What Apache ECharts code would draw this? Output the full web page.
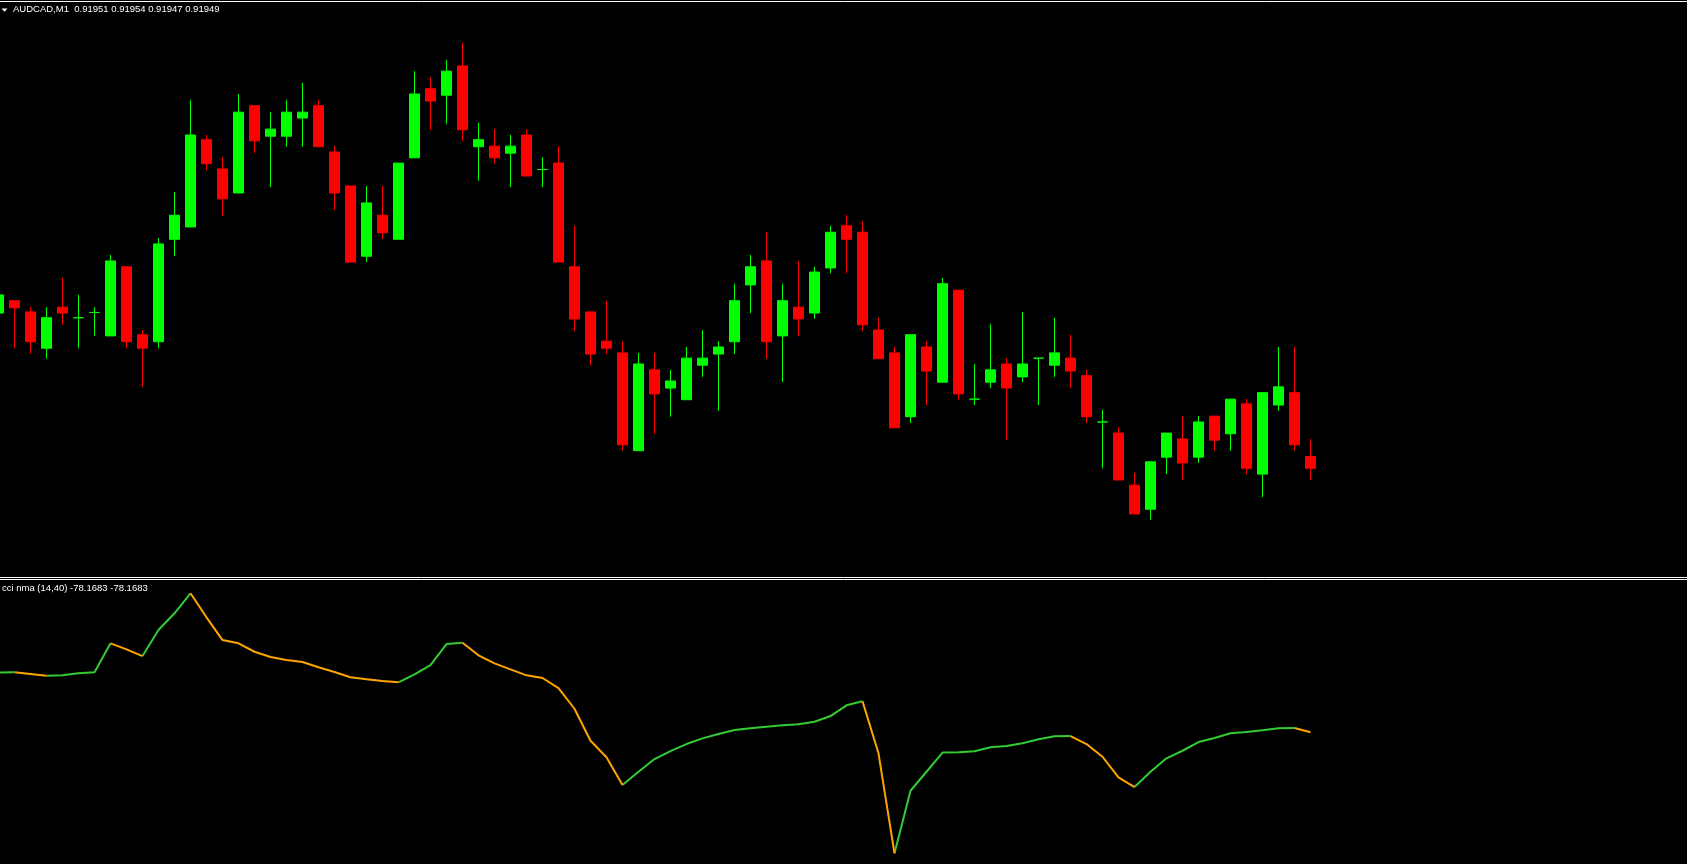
<!DOCTYPE html>
<html><head><meta charset="utf-8">
<script src="https://cdn.jsdelivr.net/npm/echarts@6/dist/echarts.min.js"></script>
<style>html,body{margin:0;padding:0;background:#000;overflow:hidden}#c{width:1687px;height:864px;}</style>
</head><body><div id="c"></div>
<script>
// AUDCAD M1 candles (open, close, low, high), oldest first
const openP = [0.919755,0.919776,0.919757,0.919695,0.919765,0.919747,0.919756,0.919716,0.919834,0.919718,
0.919706,0.919881,0.919902,0.920051,0.920001,0.919960,0.920109,0.920057,0.920057,0.920088,
0.920109,0.920030,0.919972,0.919852,0.919922,0.919881,0.920020,0.920138,0.920127,0.920177,
0.920039,0.920040,0.920028,0.920059,0.920000,0.920011,0.919834,0.919757,0.919707,0.919687,
0.919520,0.919658,0.919627,0.919607,0.919666,0.919685,0.919706,0.919803,0.919844,0.919716,
0.919765,0.919755,0.919832,0.919904,0.919893,0.919726,0.919687,0.919578,0.919697,0.919637,
0.919794,0.919608,0.919637,0.919668,0.919646,0.919678,0.919666,0.919678,0.919648,0.919569,
0.919550,0.919461,0.919420,0.919509,0.919540,0.919509,0.919579,0.919549,0.919600,0.919480,
0.919598,0.919619,0.91951];
const closeP = [0.919786,0.919764,0.919706,0.919747,0.919755,0.919747,0.919756,0.919844,0.919706,0.919695,
0.919873,0.919922,0.920059,0.920010,0.919950,0.920098,0.920049,0.920069,0.920098,0.920098,
0.920039,0.919960,0.919842,0.919943,0.919892,0.920011,0.920129,0.920117,0.920168,0.920068,
0.920051,0.920020,0.920040,0.919989,0.920000,0.919842,0.919745,0.919685,0.919695,0.919530,
0.919668,0.919617,0.919639,0.919678,0.919678,0.919697,0.919776,0.919834,0.919706,0.919776,
0.919745,0.919825,0.919893,0.919881,0.919735,0.919677,0.919559,0.919718,0.919656,0.919805,
0.919617,0.919608,0.919658,0.919627,0.919668,0.919678,0.919687,0.919656,0.919578,0.919569,
0.919470,0.919412,0.919501,0.919550,0.919499,0.919569,0.919538,0.919608,0.919490,0.919619,
0.919629,0.919530,0.91949];
const lowP = [0.919755,0.919695,0.919686,0.919677,0.919735,0.919695,0.919716,0.919716,0.919695,0.919629,
0.919695,0.919852,0.919902,0.919999,0.919921,0.919960,0.920028,0.919970,0.920039,0.920039,
0.920039,0.919931,0.919842,0.919842,0.919881,0.919881,0.920020,0.920068,0.920078,0.920049,
0.919981,0.920010,0.919970,0.919989,0.919970,0.919842,0.919724,0.919666,0.919685,0.919520,
0.919520,0.919549,0.919578,0.919607,0.919646,0.919588,0.919685,0.919755,0.919677,0.919637,
0.919716,0.919745,0.919823,0.919823,0.919724,0.919677,0.919559,0.919567,0.919598,0.919637,
0.919607,0.919598,0.919627,0.919538,0.919637,0.919598,0.919646,0.919627,0.919567,0.919490,
0.919470,0.919412,0.919402,0.919480,0.919470,0.919499,0.919520,0.919520,0.919480,0.919441,
0.919588,0.919520,0.91947];
const highP = [0.919786,0.919776,0.919765,0.919765,0.919815,0.919786,0.919765,0.919854,0.919834,0.919726,
0.919883,0.919962,0.920119,0.920059,0.920021,0.920129,0.920109,0.920098,0.920119,0.920148,
0.920119,0.920040,0.919972,0.919972,0.919972,0.920011,0.920168,0.920158,0.920187,0.920216,
0.920080,0.920069,0.920059,0.920069,0.920021,0.920040,0.919904,0.919757,0.919776,0.919707,
0.919687,0.919687,0.919658,0.919697,0.919726,0.919707,0.919805,0.919854,0.919893,0.919805,
0.919844,0.919834,0.919904,0.919922,0.919912,0.919747,0.919697,0.919718,0.919707,0.919815,
0.919794,0.919668,0.919736,0.919678,0.919757,0.919678,0.919747,0.919718,0.919658,0.919590,
0.919560,0.919482,0.919501,0.919550,0.919579,0.919579,0.919579,0.919608,0.919608,0.919619,
0.919697,0.919697,0.91954];
// cci nma (14,40) indicator values
const cciNma = [17.5,17.8,15.0,12.2,13.0,16.2,17.8,64.2,54.6,43.8,
85.4,112.2,144.2,105.8,69.4,64.2,50.7,42.2,37.4,34.2,
25.8,18.2,9.8,6.6,3.8,1.8,14.6,29.4,63.0,65.1,
45.0,32.2,22.6,13.0,8.7,-7.4,-40.5,-91.7,-118.2,-162.6,
-141.3,-121.0,-108.2,-97.0,-87.9,-81.0,-74.6,-71.8,-69.3,-67.0,
-65.4,-61.3,-52.2,-35.0,-28.6,-111.8,-271.8,-171.7,-141.3,-110.6,
-110.1,-108.6,-102.2,-100.2,-95.8,-89.4,-84.6,-84.2,-97.0,-117.3,
-150.2,-165.8,-141.3,-119.8,-107.7,-93.8,-87.4,-79.8,-77.8,-75.0,
-71.8,-71.4,-78.1683];
const symbolLabel = 'AUDCAD,M1';
const lastOHLC = ['0.91951','0.91954','0.91947','0.91949'];
const indicatorName = 'cci nma (14,40)';
const indicatorLast = ['-78.1683','-78.1683'];

const UP = '#00FF00', DOWN = '#FF0000', LUP = '#32CD32', LDN = '#FFA500';
// bar index is the x value; the visible window starts a fraction of a bar in
const X_MIN = 0.09375, X_MAX = 105.53125;
const candles = openP.map((o, i) => {
  const c = closeP[i] >= o ? UP : DOWN;
  return { value: [i, o, closeP[i], lowP[i], highP[i]],
    itemStyle: { color: c, color0: c, borderColor: c, borderColor0: c, borderColorDoji: c } };
});
const n = cciNma.length;
const rising = i => cciNma[i + 1] > cciNma[i];
const greenLine = cciNma.map((v, i) => [i, ((i > 0 && rising(i - 1)) || (i < n - 1 && rising(i))) ? v : '-']);
const orangeLine = cciNma.map((v, i) => [i, ((i > 0 && !rising(i - 1)) || (i < n - 1 && !rising(i))) ? v : '-']);

const hiddenX = (g) => ({ type: 'value', gridIndex: g, min: X_MIN, max: X_MAX,
  axisLine: { show: false }, axisTick: { show: false }, axisLabel: { show: false }, splitLine: { show: false } });
const hiddenY = (g, mn, mx) => ({ type: 'value', gridIndex: g, min: mn, max: mx,
  axisLine: { show: false }, axisTick: { show: false }, axisLabel: { show: false }, splitLine: { show: false } });

const chart = echarts.init(document.getElementById('c'), null, { renderer: 'canvas' });
const font = '9.5px "Liberation Sans", Arial, sans-serif';
chart.setOption({
  backgroundColor: '#000000',
  animation: false,
  grid: [
    { left: 0, top: 0, width: 1687, height: 577 },
    { left: 0, top: 580, width: 1687, height: 284 }
  ],
  xAxis: [hiddenX(0), hiddenX(1)],
  yAxis: [hiddenY(0, 0.91930433, 0.9202895), hiddenY(1, -288.9, 165.5)],
  series: [
    { type: 'candlestick', xAxisIndex: 0, yAxisIndex: 0, data: candles, barWidth: 10,
      encode: { x: 0, y: [1, 2, 3, 4] }, itemStyle: { borderWidth: 1 } },
    { type: 'line', xAxisIndex: 1, yAxisIndex: 1, data: greenLine, symbol: 'none', connectNulls: false,
      lineStyle: { color: LUP, width: 2 }, z: 2 },
    { type: 'line', xAxisIndex: 1, yAxisIndex: 1, data: orangeLine, symbol: 'none', connectNulls: false,
      lineStyle: { color: LDN, width: 2 }, z: 3 }
  ],
  graphic: [
    { type: 'line', shape: { x1: 0, y1: 1.5, x2: 1687, y2: 1.5 }, style: { stroke: '#FFFFFF', lineWidth: 1 }, z: 10 },
    { type: 'line', shape: { x1: 0, y1: 577.5, x2: 1687, y2: 577.5 }, style: { stroke: '#FFFFFF', lineWidth: 1 }, z: 10 },
    { type: 'line', shape: { x1: 0, y1: 579.5, x2: 1687, y2: 579.5 }, style: { stroke: '#FFFFFF', lineWidth: 1 }, z: 10 },
    { type: 'polygon', shape: { points: [[1.5, 8.5], [7.5, 8.5], [4.5, 11.8]] }, style: { fill: '#FFFFFF' }, z: 10 },
    { type: 'text', x: 13, y: 4, z: 10,
      style: { text: symbolLabel + '  ' + lastOHLC.join(' '), font: font, fill: '#FFFFFF', verticalAlign: 'top' } },
    { type: 'text', x: 2, y: 583, z: 10,
      style: { text: indicatorName + ' ' + indicatorLast.join(' '), font: font, fill: '#FFFFFF', verticalAlign: 'top' } }
  ]
});
</script></body></html>
